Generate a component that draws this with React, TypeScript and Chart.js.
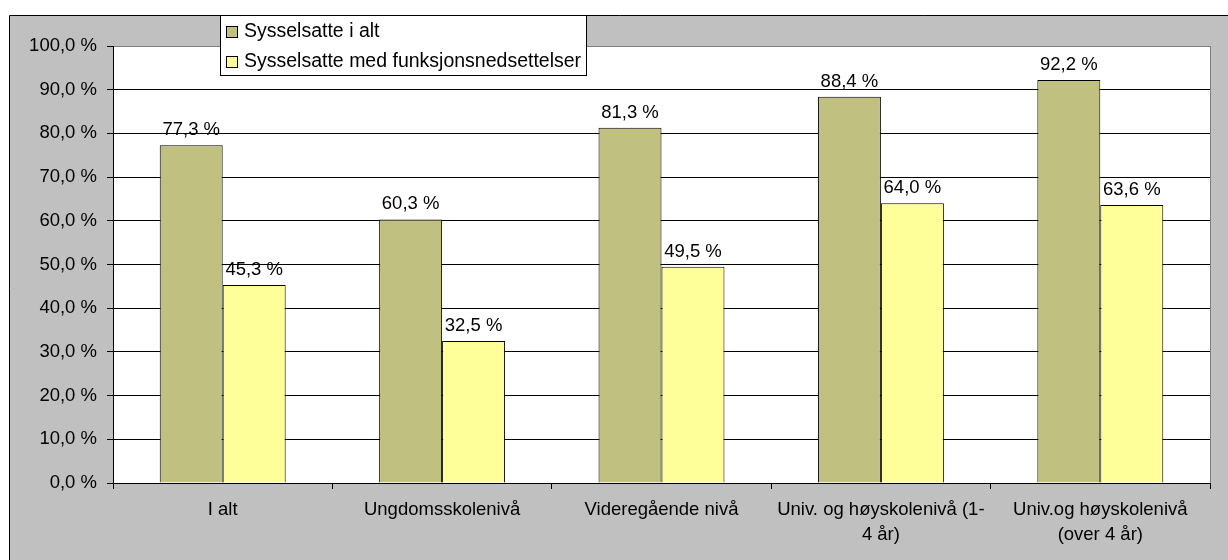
import React, { useEffect, useRef } from "react";
import { Chart, registerables } from "chart.js";

Chart.register(...registerables);

const categories: string[][] = [
  ["I alt"],
  ["Ungdomsskolenivå"],
  ["Videregående nivå"],
  ["Univ. og høyskolenivå (1-", "4 år)"],
  ["Univ.og høyskolenivå", "(over 4 år)"],
];
const seriesNames: string[] = ["Sysselsatte i alt", "Sysselsatte med funksjonsnedsettelser"];
const totalValues: number[] = [77.3, 60.3, 81.3, 88.4, 92.2];
const disabledValues: number[] = [45.3, 32.5, 49.5, 64.0, 63.6];
const yMin = 0;
const yMax = 100;
const yStep = 10;

const seriesColors = ["#c0c080", "#ffff99"];
const FONT = "Arial, 'Liberation Sans', Helvetica, sans-serif";

const fmt = (v: number) => v.toFixed(1).replace(".", ",") + " %";

const framePlugin = {
  id: "frame",
  beforeDraw(chart: any) {
    const { ctx, width, height, chartArea: a } = chart;
    ctx.save();
    ctx.fillStyle = "#ffffff";
    ctx.fillRect(0, 0, width, height);
    ctx.fillStyle = "#c0c0c0";
    ctx.fillRect(10, 16, width, height);
    ctx.strokeStyle = "#000";
    ctx.lineWidth = 1;
    ctx.beginPath();
    ctx.moveTo(9.5, height + 2);
    ctx.lineTo(9.5, 15.5);
    ctx.lineTo(width + 2, 15.5);
    ctx.stroke();
    ctx.fillStyle = "#ffffff";
    ctx.fillRect(a.left, a.top, a.right - a.left, a.bottom - a.top);
    ctx.strokeStyle = "#808080";
    ctx.beginPath();
    ctx.moveTo(a.right + 0.5, a.top);
    ctx.lineTo(a.right + 0.5, a.bottom);
    ctx.stroke();
    ctx.restore();
  },
  afterDraw(chart: any) {
    const { ctx } = chart;
    ctx.save();
    // data labels
    ctx.fillStyle = "#000";
    ctx.font = `18.5px ${FONT}`;
    ctx.textAlign = "center";
    ctx.textBaseline = "alphabetic";
    chart.data.datasets.forEach((ds: any, di: number) => {
      const meta = chart.getDatasetMeta(di);
      meta.data.forEach((el: any, i: number) => {
        ctx.fillText(fmt(ds.data[i]), el.x, el.y - 10);
      });
    });
    // legend
    const lx = 220.5, ly = 15.5, lw = 366, lh = 60;
    ctx.fillStyle = "#fff";
    ctx.fillRect(lx, ly, lw, lh);
    ctx.strokeStyle = "#000";
    ctx.lineWidth = 1;
    ctx.strokeRect(lx, ly, lw, lh);
    ctx.font = `19.5px ${FONT}`;
    ctx.textAlign = "left";
    seriesNames.forEach((name, i) => {
      const cy = 32 + i * 30;
      ctx.fillStyle = seriesColors[i];
      ctx.fillRect(227, cy - 5, 10, 10);
      ctx.strokeStyle = "#000";
      ctx.strokeRect(226.5, cy - 5.5, 11, 11);
      ctx.fillStyle = "#000";
      ctx.fillText(name, 244, cy + 5);
    });
    ctx.restore();
  },
};

export default function App() {
  const ref = useRef<HTMLCanvasElement | null>(null);
  useEffect(() => {
    if (!ref.current) return;
    const chart = new Chart(ref.current, {
      type: "bar",
      data: {
        labels: categories,
        datasets: [
          {
            label: seriesNames[0],
            data: totalValues,
            backgroundColor: seriesColors[0],
            borderColor: "#000",
            borderWidth: 1,
            categoryPercentage: 0.574,
            barPercentage: 1,
          },
          {
            label: seriesNames[1],
            data: disabledValues,
            backgroundColor: seriesColors[1],
            borderColor: "#000",
            borderWidth: 1,
            categoryPercentage: 0.574,
            barPercentage: 1,
          },
        ],
      },
      options: {
        animation: false,
        responsive: false,
        maintainAspectRatio: false,
        layout: { padding: { top: 46, right: 18, left: 0, bottom: 0 } },
        plugins: {
          legend: { display: false },
          tooltip: { enabled: false },
          title: { display: false },
        },
        scales: {
          x: {
            grid: {
              display: true,
              drawOnChartArea: false,
              drawTicks: true,
              tickLength: 6,
              tickColor: "#000",
              color: "#000",
              offset: true,
            },
            border: { display: true, color: "#000", width: 1 },
            ticks: {
              color: "#000",
              font: { family: FONT, size: 18.5, lineHeight: 1.35 },
              padding: 8,
              maxRotation: 0,
              autoSkip: false,
            },
            afterFit: (s: any) => {
              s.height = 77;
            },
          },
          y: {
            z: 1,
            min: yMin,
            max: yMax,
            ticks: {
              stepSize: yStep,
              color: "#000",
              font: { family: FONT, size: 18.5 },
              padding: 10,
              callback: (v: any) => fmt(Number(v)),
            },
            grid: {
              color: (c: any) => (c.tick && c.tick.value === yMax ? "#808080" : "#000"),
              tickColor: "#000",
              tickLength: 6,
              lineWidth: 1,
            },
            border: { display: true, color: "#000", width: 1 },
            afterFit: (s: any) => {
              s.width = 113;
            },
          },
        },
      },
      plugins: [framePlugin],
    } as any);
    return () => chart.destroy();
  }, []);
  return (
    <div style={{ position: "absolute", left: 0, top: 0, width: 1228, height: 560 }}>
      <canvas ref={ref} width={1228} height={560} style={{ display: "block" }} />
    </div>
  );
}
